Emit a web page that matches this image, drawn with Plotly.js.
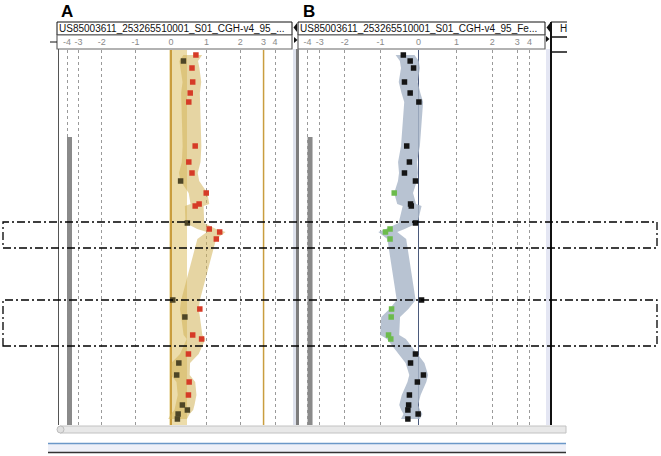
<!DOCTYPE html>
<html><head><meta charset="utf-8">
<script src="https://cdn.plot.ly/plotly-3.0.1.min.js"></script>
<style>html,body{margin:0;padding:0;background:#fff}#chart{width:661px;height:456px}</style>
</head><body><div id="chart"></div>
<script>
// probe positions (arbitrary genomic units, top to bottom of the view)
const probePos = [5,11,18,32,43,52,96,112,123,131,143,154,156,173,179,182,189,250,259,267,285,289,304,313,325,332,345,355,360,364,369];
// log ratios, panel A and panel B
const ratioA = [0.70,0.35,0.59,0.61,0.54,0.50,0.68,0.50,0.59,0.27,0.99,0.79,0.68,0.46,1.08,1.39,1.29,0.05,0.81,0.39,0.61,0.86,0.49,0.22,0.16,0.51,0.49,0.32,0.46,0.20,0.18];
const ratioB = [-0.40,-0.22,-0.13,-0.37,-0.22,0.01,-0.31,-0.24,-0.37,-0.08,-0.64,-0.21,-0.19,-0.08,-0.75,-0.87,-0.75,0.08,-0.71,-0.72,-0.79,-0.73,-0.08,-0.21,0.13,-0.03,-0.24,-0.26,-0.28,-0.01,-0.28];
const tickValues = [-4,-3,-2,-1,0,1,2,3,4];
const tickLabels = ['-4','-3','-2','-1','0','1','2','3','4'];
const titleA = 'US85003611_253265510001_S01_CGH-v4_95_...';
const titleB = 'US85003611_253265510001_S01_CGH-v4_95_Fe...';
const titleC = 'H';
const gainThreshold = 0.475, lossThreshold = -0.5, thresholdLine = 3;

const W=661,H=456;
// compressed ruler scale of the viewer
const KF=[0,0.342,0.665,0.89,1.0];
function warp(v){const a=Math.abs(v);let f;
  if(a>=4) f=1+(a-4)*0.11; else {const i=Math.floor(a); f=KF[i]+(KF[i+1]-KF[i])*(a-i);}
  return v<0?-f:f;}
function smooth(arr){return arr.map((v,i)=>{const a=arr[Math.max(0,i-1)],c=arr[Math.min(arr.length-1,i+1)];return 0.25*a+0.5*v+0.25*c;});}
function band(vals,hw){const s=smooth(vals).map(warp);
  return {x:s.map(v=>v+hw).concat(s.slice().reverse().map(v=>v-hw)), y:probePos.concat(probePos.slice().reverse())};}
const px=x=>x/W, py=y=>1-y/H;

const bA=band(ratioA,0.09), bB=band(ratioB,0.085);
const traces=[
 {type:'scatter',mode:'lines',x:bA.x,y:bA.y,fill:'toself',fillcolor:'rgba(210,178,88,0.55)',line:{width:0},xaxis:'x',yaxis:'y',hoverinfo:'skip'},
 {type:'scatter',mode:'markers',x:ratioA.map(warp),y:probePos,xaxis:'x',yaxis:'y',
  marker:{symbol:'square',size:5.5,color:ratioA.map(v=>v>=gainThreshold?'#d63b27':'#4d4526')}},
 {type:'scatter',mode:'lines',x:bB.x,y:bB.y,fill:'toself',fillcolor:'rgba(168,182,200,0.82)',line:{width:0},xaxis:'x2',yaxis:'y',hoverinfo:'skip'},
 {type:'scatter',mode:'markers',x:ratioB.map(warp),y:probePos,xaxis:'x2',yaxis:'y',
  marker:{symbol:'square',size:5.5,color:ratioB.map(v=>v<=lossThreshold?'#6cbb4c':'#151515')}}
];

const shapes=[];
function rectP(x0,y0,x1,y1,fill,line,lw,layer,dash){shapes.push({type:'rect',xref:'paper',yref:'paper',x0:px(x0),x1:px(x1),y0:py(y1),y1:py(y0),fillcolor:fill||'rgba(0,0,0,0)',line:{color:line||'rgba(0,0,0,0)',width:lw||0,dash:dash||'solid'},layer:layer||'above'});}
function lineP(x0,y0,x1,y1,color,w,dash){shapes.push({type:'line',xref:'paper',yref:'paper',x0:px(x0),y0:py(y0),x1:px(x1),y1:py(y1),line:{color:color,width:w,dash:dash||'solid'},layer:'above'});}
function triP(pts,color){shapes.push({type:'path',xref:'paper',yref:'paper',path:'M'+pts.map(p=>px(p[0])+','+py(p[1])).join(' L')+' Z',fillcolor:color,line:{width:0},layer:'above'});}

// data-space decorations
shapes.push({type:'rect',xref:'x',yref:'y',x0:warp(-0.05),x1:warp(0.45),y0:0,y1:375,fillcolor:'#ecdcaa',line:{width:0},layer:'below'});
shapes.push({type:'line',xref:'x',yref:'y',x0:warp(thresholdLine),x1:warp(thresholdLine),y0:0,y1:375,line:{color:'#c99d3e',width:1.5},layer:'above'});
shapes.push({type:'rect',xref:'x',yref:'y',x0:warp(-4),x1:warp(-4)+0.048,y0:87,y1:375,fillcolor:'#8a8a8a',line:{width:0},layer:'above'});
shapes.push({type:'rect',xref:'x2',yref:'y',x0:warp(-4),x1:warp(-4)+0.045,y0:87,y1:375,fillcolor:'#8a8a8a',line:{width:0},layer:'above'});

// header boxes
rectP(57,22,292,35,'#fff','#111',1,'below');
rectP(57,35,292,49,'#fff','#666',1.2,'below');
rectP(298,22,545,35,'#fff','#111',1,'below');
rectP(298,35,545,49,'#fff','#666',1.2,'below');
lineP(50,42,57,42,'#111',1);
triP([[297,23],[297,32],[293.5,27.5]],'#111');
triP([[294,37],[294,43],[297.5,40]],'#111');
triP([[550,23],[550,32],[546.5,27.5]],'#111');
triP([[546,36],[546,42],[549.5,39]],'#111');
lineP(551,22,567,22,'#111',1);
lineP(551,37,567,37,'#111',1.5);
lineP(551,52,567,52,'#111',1.5);
// panel borders
lineP(58.5,49,58.5,425,'#555',1);
rectP(293,49,296,425,'#dde1ec');
rectP(296,49,299,425,'#7d7d7d');
rectP(546,49,550,425,'#e4e6f3');
lineP(551,22,551,425,'#111',2);
// selection boxes
rectP(3,222,657,248,null,'#000',1.3,'above','8px,3px,2px,3px');
rectP(3,300,657,346,null,'#000',1.3,'above','8px,3px,2px,3px');
// scrollbar and bottom bar
rectP(60,426,566,433,'#e8e8e8','#c2c2c2',1);
shapes.push({type:'circle',xref:'paper',yref:'paper',x0:px(57),x1:px(64),y0:py(433),y1:py(426),fillcolor:'#e0e0e0',line:{color:'#bdbdbd',width:1},layer:'above'});
rectP(48,444,566,452,'#eef0f8');
lineP(48,443.5,566,443.5,'#6b98c8',1.5);
lineP(48,452.5,566,452.5,'#333',1.5);

const annotations=[
 {text:'<b>A</b>',x:px(59),y:py(11),xref:'paper',yref:'paper',xanchor:'left',yanchor:'middle',showarrow:false,font:{family:'Liberation Sans, Arial',size:17,color:'#000'}},
 {text:'<b>B</b>',x:px(301),y:py(11),xref:'paper',yref:'paper',xanchor:'left',yanchor:'middle',showarrow:false,font:{family:'Liberation Sans, Arial',size:17,color:'#000'}},
 {text:titleA,x:px(57),y:py(28.5),xref:'paper',yref:'paper',xanchor:'left',yanchor:'middle',showarrow:false,font:{family:'Liberation Sans, Arial',size:10,color:'#111'}},
 {text:titleB,x:px(298),y:py(28.5),xref:'paper',yref:'paper',xanchor:'left',yanchor:'middle',showarrow:false,font:{family:'Liberation Sans, Arial',size:10,color:'#111'}},
 {text:titleC,x:px(558),y:py(28.5),xref:'paper',yref:'paper',xanchor:'left',yanchor:'middle',showarrow:false,font:{family:'Liberation Sans, Arial',size:10,color:'#111'}}
];

const axCommon={side:'top',anchor:'y',tickmode:'array',tickvals:tickValues.map(warp),ticktext:tickLabels,
 showgrid:true,gridcolor:'#9a9a9a',griddash:'dot',gridwidth:1,zeroline:true,zerolinewidth:1.5,ticklabelstandoff:2,
 showline:false,ticks:'',tickfont:{family:'Liberation Sans, Arial',size:9,color:'#8a8a8a'},fixedrange:true};
const layout={width:W,height:H,margin:{l:0,r:0,t:0,b:0},paper_bgcolor:'#fff',plot_bgcolor:'rgba(0,0,0,0)',showlegend:false,
 xaxis:Object.assign({},axCommon,{domain:[px(59),px(293)],range:[-1.077,1.173],zerolinecolor:'#c99d3e'}),
 xaxis2:Object.assign({},axCommon,{domain:[px(299),px(549)],range:[-1.077,1.176],zerolinecolor:'#4b5a7c'}),
 yaxis:{domain:[py(425),py(50)],range:[375,0],visible:false,fixedrange:true},
 shapes:shapes,annotations:annotations};
Plotly.newPlot('chart',traces,layout,{staticPlot:true,displayModeBar:false});
</script></body></html>
